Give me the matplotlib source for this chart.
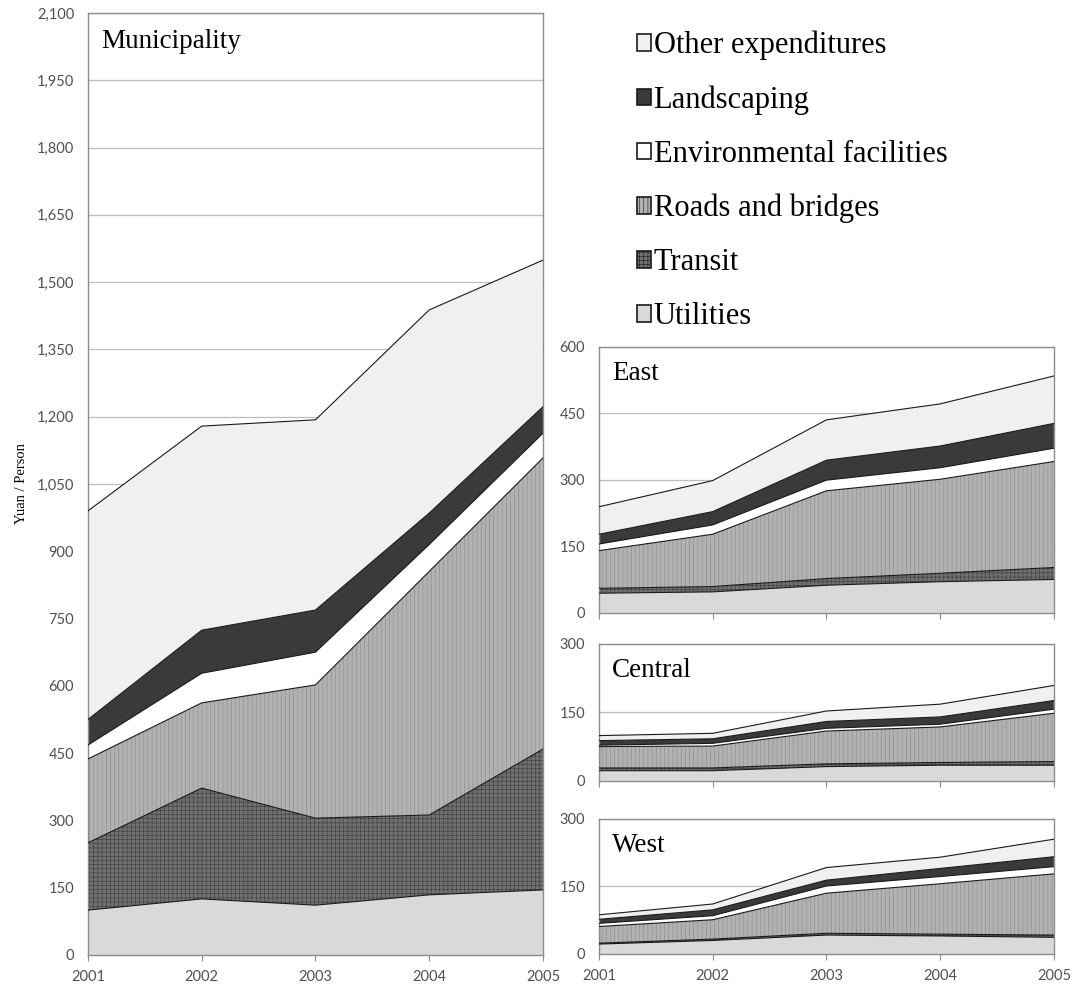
import matplotlib
matplotlib.use("Agg")
import matplotlib.pyplot as plt
import matplotlib.ticker as mtick
from matplotlib.patches import Patch

plt.rcParams["hatch.linewidth"] = 0.4

years = [2001, 2002, 2003, 2004, 2005]
series = ["Utilities", "Transit", "Roads and bridges",
          "Environmental facilities", "Landscaping", "Other expenditures"]

# Yuan per person, by category (stacked bottom to top)
muni_utilities = [100, 125, 111, 134, 145]
muni_transit = [150, 247, 194, 178, 314]
muni_roads = [187, 190, 297, 543, 649]
muni_environment = [31, 66, 73, 60, 55]
muni_landscaping = [57, 96, 94, 70, 59]
muni_other = [465, 455, 424, 453, 327]

east_utilities = [44, 47, 62, 70, 75]
east_transit = [11, 12, 15, 19, 27]
east_roads = [85, 118, 198, 212, 239]
east_environment = [15, 21, 24, 26, 30]
east_landscaping = [22, 30, 45, 49, 56]
east_other = [62, 70, 91, 95, 107]

central_utilities = [22, 22, 31, 34, 34]
central_transit = [6, 6, 6, 6, 8]
central_roads = [47, 48, 72, 78, 106]
central_environment = [3, 6, 6, 6, 9]
central_landscaping = [10, 10, 15, 16, 19]
central_other = [11, 12, 23, 28, 33]

west_utilities = [22, 30, 42, 40, 37]
west_transit = [2, 3, 4, 4, 5]
west_roads = [37, 43, 89, 112, 136]
west_environment = [7, 9, 16, 16, 16]
west_landscaping = [9, 13, 13, 18, 22]
west_other = [10, 13, 28, 25, 39]

# face colour, hatch, hatch colour for each layer
styles = [
    ("#d9d9d9", None, None),
    ("#707070", "++++", "#3c3c3c"),
    ("#b2b2b2", "||||", "#8a8a8a"),
    ("#ffffff", None, None),
    ("#3a3a3a", None, None),
    ("#f0f0f0", None, None),
]

SERIF = "Liberation Serif"
TICKFONT = "Lato"
TICKCOLOR = "#505050"


def draw_stack(ax, layers, ymax, step, title, title_dy, show_xlabels=True):
    base = [0] * len(years)
    for vals, (fc, hatch, hc) in zip(layers, styles):
        top = [b + v for b, v in zip(base, vals)]
        if hatch:
            ax.fill_between(years, base, top, facecolor=fc, hatch=hatch,
                            edgecolor=hc, linewidth=0, zorder=2)
        else:
            ax.fill_between(years, base, top, facecolor=fc, linewidth=0,
                            zorder=2)
        ax.plot(years, top, color="#1a1a1a", linewidth=0.8, zorder=3)
        base = top

    ax.set_xlim(years[0], years[-1])
    ax.set_ylim(0, ymax)
    ax.yaxis.set_major_locator(mtick.MultipleLocator(step))
    ax.yaxis.set_major_formatter(mtick.StrMethodFormatter("{x:,.0f}"))
    ax.set_xticks(years)
    if not show_xlabels:
        ax.set_xticklabels([])
    ax.grid(axis="y", color="#bdbdbd", linewidth=0.9, zorder=1)
    ax.set_axisbelow(True)
    for sp in ax.spines.values():
        sp.set_color("#8c8c8c")
        sp.set_linewidth(1.0)
    ax.tick_params(axis="y", length=0, pad=10, labelsize=10.5,
                   labelcolor=TICKCOLOR)
    ax.tick_params(axis="x", length=4, color="#8c8c8c", labelsize=10.5,
                   labelcolor=TICKCOLOR, pad=7)
    for lab in ax.get_xticklabels() + ax.get_yticklabels():
        lab.set_fontfamily(TICKFONT)
    ax.annotate(title, xy=(0, 1), xycoords="axes fraction",
                xytext=(13, -title_dy), textcoords="offset pixels",
                ha="left", va="top", fontsize=19.5, family=SERIF, zorder=5)


fig = plt.figure(figsize=(10.73, 9.9), dpi=100)

ax_main = fig.add_axes([0.0820, 0.0354, 0.4240, 0.9515])
draw_stack(ax_main, [muni_utilities, muni_transit, muni_roads,
                     muni_environment, muni_landscaping, muni_other],
           2100, 150, "Municipality", 16.5)
ax_main.set_ylabel("Yuan / Person", family=SERIF, fontsize=10.5, labelpad=6)

ax_east = fig.add_axes([0.5582, 0.3811, 0.4240, 0.2687])
draw_stack(ax_east, [east_utilities, east_transit, east_roads,
                     east_environment, east_landscaping, east_other],
           600, 150, "East", 14, show_xlabels=False)

ax_central = fig.add_axes([0.5582, 0.2114, 0.4240, 0.1381])
draw_stack(ax_central, [central_utilities, central_transit, central_roads,
                        central_environment, central_landscaping,
                        central_other],
           300, 150, "Central", 14, show_xlabels=False)

ax_west = fig.add_axes([0.5582, 0.0364, 0.4240, 0.1364])
draw_stack(ax_west, [west_utilities, west_transit, west_roads,
                     west_environment, west_landscaping, west_other],
           300, 150, "West", 14)

# legend, top category first
handles = []
for name, (fc, hatch, hc) in zip(series[::-1], styles[::-1]):
    handles.append(Patch(facecolor=fc, edgecolor="#1a1a1a", linewidth=1.2,
                         hatch=hatch, label=name))
fig.legend(handles=handles, loc="upper left", bbox_to_anchor=(0.594, 0.969),
           frameon=False, prop={"family": SERIF, "size": 22},
           handlelength=0.45, handleheight=0.45, handletextpad=0.08,
           labelspacing=0.82, borderaxespad=0, borderpad=0)

fig.savefig("out.png", dpi=100)
